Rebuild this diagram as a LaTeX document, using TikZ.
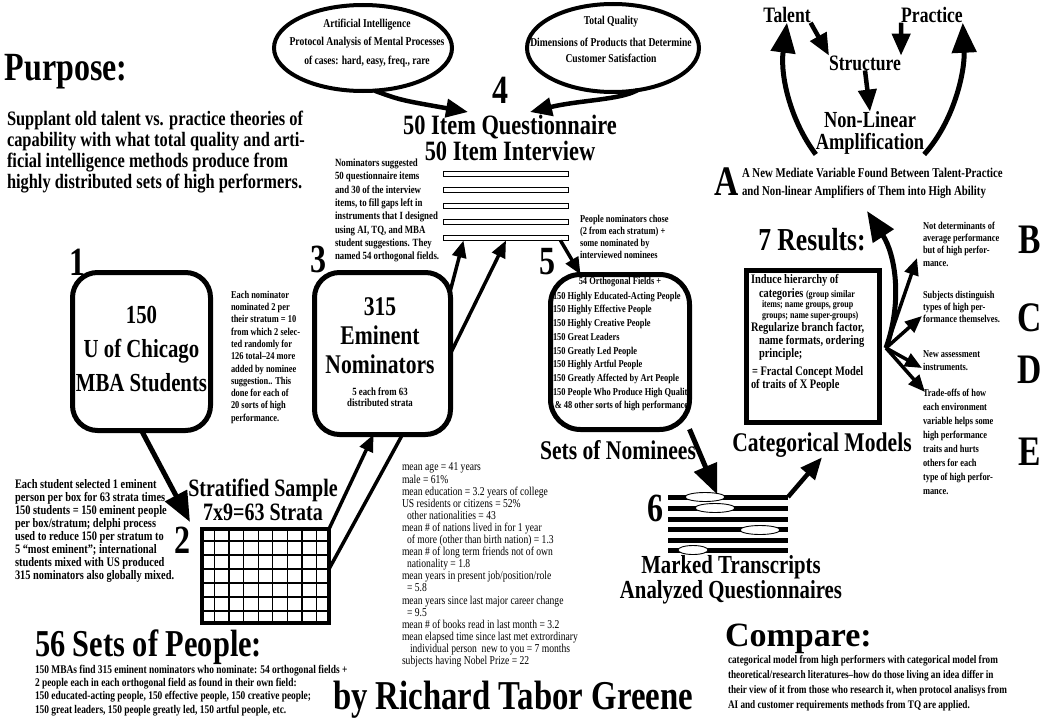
\documentclass[tikz,border=0pt]{standalone}
\usepackage{fontspec}
\setmainfont[FakeStretch=0.8]{Liberation Serif}
\newfontfamily\wideserif{Liberation Serif}
\usetikzlibrary{arrows.meta,shapes.geometric,calc}
\newcommand\fz[2]{\fontsize{#1}{#2}\selectfont\bfseries}
\newcommand\frg[2]{\fontsize{#1}{#2}\selectfont\mdseries}
\newcommand\fw[2]{\wideserif\fontsize{#1}{#2}\selectfont\bfseries}
\tikzset{
  every node/.style={inner sep=0pt, outer sep=0pt},
  fat/.style={line width=4.5pt, -{Triangle[length=22pt,width=18pt]}},
  hugearrow/.style={line width=5pt, -{Triangle[length=30pt,width=24pt]}},
  slim/.style={line width=3.5pt, -{Triangle[length=17pt,width=14pt]}},
  rbox/.style={draw, line width=5pt, rounded corners=25pt},
  oval/.style={ellipse, draw, line width=4pt},
  qbar/.style={draw, line width=1.8pt, fill=white, minimum width=125pt, minimum height=5pt},
  tbar/.style={fill=black, minimum width=120pt, minimum height=5pt},
  mk/.style={ellipse, draw, line width=0.9pt, fill=white, minimum height=9pt},
  num/.style={font=\fz{40}{40}},
  note/.style={align=left, anchor=north west},
  rl/.style={anchor=west, font=\fz{13}{13}},
  rs/.style={anchor=west, font=\fz{10}{10}},
}
\begin{document}
\begin{tikzpicture}[x=1pt,y=-1pt]
\useasboundingbox[fill=white] (0,0) rectangle (1052,720);

% ---------- Purpose
\node[anchor=base west, font=\fz{40}{40}] (purpose) at (5,80) {Purpose:};
\node[note, font=\fz{20.5}{21}] (purptxt) at (7,111) {Supplant old talent vs. practice theories of\\capability with what total quality and arti-\\ficial intelligence methods produce from\\highly distributed sets of high performers.};

% ---------- top ellipses
\node[oval, minimum width=178pt, minimum height=86pt] (ai) at (363,48) {};
\node[align=center, font=\fz{12}{18.5}] (aitxt) at (367,43) {Artificial Intelligence\\Protocol Analysis of Mental Processes\\of cases: hard, easy, freq., rare};
\node[oval, minimum width=172pt, minimum height=88pt] (tq) at (613,48) {};
\node[align=center, font=\fz{12}{15.5}] (tqtxt) at (611,39) {Total Quality\\[7pt]Dimensions of Products that Determine\\Customer Satisfaction};

\node[num] (four) at (500,90) {4};
\node[anchor=base, font=\fz{28}{28}] (quest) at (510,134) {50 Item Questionnaire};
\node[anchor=base, font=\fz{28}{28}] (interv) at (510,160) {50 Item Interview};
\coordinate (aitip) at (468,112);
\coordinate (tqtip) at (530,112);
\draw[fat] (ai.285) .. controls (400,100) .. (aitip);
\draw[fat] (tq.300) .. controls (620,100) and (580,100) .. (tqtip);

% ---------- questionnaire bars
\foreach \i/\y in {1/174,2/190,3/206,4/222,5/238} \node[qbar] (q\i) at (506,\y) {};

\node[note, font=\fz{11}{13.3}] (nomnote) at (335,159) {Nominators suggested\\50 questionnaire items\\and 30 of the interview\\items, to fill gaps left in\\instruments that I designed\\using AI, TQ, and MBA\\student suggestions. They\\named 54 orthogonal fields.};

% ---------- box 1
\node[num] (n1) at (77,262) {1};
\node[rbox, minimum width=138pt, minimum height=158pt] (b1) at (141.5,351.5) {};
\node[align=center, font=\fz{26}{34}] (b1txt) at (141.5,349) {150\\U of Chicago\\MBA Students};

\node[note, font=\fz{10.5}{12.3}] (perno) at (231,291) {Each nominator\\nominated 2 per\\their stratum = 10\\from which 2 selec-\\ted randomly for\\126 total--24 more\\added by nominee\\suggestion.. This\\done for each of\\20 sorts of high\\performance.};

% ---------- box 3
\node[num] (n3) at (318,259) {3};
\node[rbox, minimum width=136pt, minimum height=162pt] (b3) at (382.5,353.5) {};
\node[align=center, font=\fz{27}{29}] (b3txt) at (380,336) {315\\Eminent\\Nominators};
\node[align=center, font=\fz{11}{11.5}] (b3sub) at (380,397) {5 each from 63\\distributed strata};
\draw[slim] (b3.43) -- ($(q5.south west)!0.16!(q5.south east)$);
\draw[slim] (b3.east) -- (q5.south);

% ---------- box 5
\node[num] (n5) at (547,262) {5};
\node[note, font=\fz{10.5}{12}] (pnote) at (580,215) {People nominators chose\\(2 from each stratum) +\\some nominated by\\interviewed nominees};
\node[rbox, rounded corners=30pt, minimum width=139pt, minimum height=155pt] (b5) at (620,352) {};
\node[font=\fz{10.5}{13.7}] (b5head) at (620,282) {54 Orthogonal Fields +};
\node[note, font=\fz{10.5}{13.7}] (b5list) at (553,292) {150 Highly Educated-Acting People\\150 Highly Effective People\\150 Highly Creative People\\150 Great Leaders\\150 Greatly Led People\\150 Highly Artful People\\150 Greatly Affected by Art People\\150 People Who Produce High Quality\\\,\& 48 other sorts of high performance};
\draw[slim] ($(q5.south east)+(-8,0)$) -- (b5.117);
\node[font=\fz{27}{27}] (setsnom) at (618,450) {Sets of Nominees};

% ---------- transcripts
\foreach \i/\y in {1/497,2/508,3/519,4/529,5/540,6/550} \node[tbar] (t\i) at (728,\y) {};
\node[mk, minimum width=40pt] (m1) at (705,497) {};
\node[mk, minimum width=40pt] (m2) at (715,508) {};
\node[mk, minimum width=40pt] (m3) at (760,530) {};
\node[mk, minimum width=30pt] (m4) at (693,550) {};
\draw[hugearrow] (b5.-48) -- ($(t1.north west)!0.41!(t1.north east)$);
\node[num] (n6) at (655,508) {6};
\node[align=center, font=\fz{26}{25}] (marked) at (731,580) {Marked Transcripts\\Analyzed Questionnaires};

% ---------- results
\node[font=\fz{32}{32}] (res) at (812,240) {7 Results:};
\node[draw, line width=5pt, minimum width=133pt, minimum height=152pt] (rbx) at (813,346.5) {};
\node[rl] (r1) at (751,280) {Induce hierarchy of};
\node[rl] (r2) at (759,294) {categories {\fz{10}{10}(group similar}};
\node[rs] (r3) at (762,305) {items; name groups, group};
\node[rs] (r4) at (762,316) {groups; name super-groups)};
\node[rl] (r5) at (751,328) {Regularize branch factor,};
\node[rl] (r6) at (759,341) {name formats, ordering};
\node[rl] (r7) at (759,354) {principle;};
\node[rl] (r8) at (752,372) {= Fractal Concept Model};
\node[rl] (r9) at (751,385) {of traits of X People};
\node[font=\fz{27}{27}] (catm) at (822,445) {Categorical Models};
\draw[fat] (t1.east) -- (catm.south);

% ---------- B C D E
\node[font=\fz{42}{42}] (LB) at (1030,240) {B};
\node[font=\fz{42}{42}] (LC) at (1030,318) {C};
\node[font=\fz{42}{42}] (LD) at (1030,370) {D};
\node[font=\fz{42}{42}] (LE) at (1030,452) {E};
\node[note, font=\fz{10.5}{12.3}] (btxt) at (923,222) {Not determinants of\\average performance\\but of high perfor-\\mance.};
\node[note, font=\fz{10.5}{12.3}] (ctxt) at (923,291) {Subjects distinguish\\types of high per-\\formance themselves.};
\node[note, font=\fz{10.5}{12.3}] (dtxt) at (923,351) {New assessment\\instruments.};
\node[note, font=\fz{10.5}{14}] (etxt) at (923,389) {Trade-offs of how\\each environment\\variable helps some\\high performance\\traits and hurts\\others for each\\type of high perfor-\\mance.};

\coordinate (hub) at (886,348);
\coordinate (atip) at (867,211);
\coordinate (btip) at (917,258);
\coordinate (ctip) at (922,316);
\coordinate (dtip) at (922,368);
\coordinate (etip) at (925,392);
\draw[hugearrow] (hub) .. controls (903,300) and (895,254) .. (atip);
\draw[slim] (hub) -- (btip);
\draw[slim] (hub) -- (ctip);
\draw[slim] (hub) -- (dtip);
\draw[slim] (hub) -- (etip);

% ---------- top right
\node[font=\fz{22}{22}] (talent) at (787,15) {Talent};
\node[font=\fz{22}{22}] (practice) at (932,15) {Practice};
\node[font=\fz{22}{22}] (structure) at (865,63) {Structure};
\node[font=\fz{23}{22}, align=center] (nonlin) at (870,133) {Non-Linear\\Amplification};
\draw[fat] (talent.south east) -- (structure.north west);
\draw[fat] (practice.south west) -- (structure.north east);
\draw[fat] (structure.south) -- (nonlin.north);
\draw[hugearrow] (nonlin.south west) .. controls (790,120) and (780,75) .. (talent.south);
\draw[hugearrow] (nonlin.south east) .. controls (955,120) and (965,70) .. (practice.south east);
\node[font=\fz{42}{42}] (LA) at (727,182) {A};
\node[anchor=base west, font=\fz{13.5}{17}] (atxt1) at (742,177) {A New Mediate Variable Found Between Talent-Practice};
\node[anchor=base west, font=\fz{13.5}{17}] (atxt2) at (742,195) {and Non-linear Amplifiers of Them into High Ability};

% ---------- stratified sample
\node[note, font=\fz{13}{13}] (stnote) at (15,479) {Each student selected 1 eminent\\person per box for 63 strata times\\150 students = 150 eminent people\\per box/stratum; delphi process\\used to reduce 150 per stratum to\\5 “most eminent”; international\\students mixed with US produced\\315 nominators also globally mixed.};
\node[font=\fz{25}{24}, align=center] (strat) at (263,500) {Stratified Sample\\7x9=63 Strata};
\node[num] (n2) at (182,540) {2};
\node[draw, line width=4pt, minimum width=127pt, minimum height=94pt] (grid) at (265.5,576) {};
\draw[line width=1.3pt] \foreach \k in {1,...,8} {({200+\k*14.56},527) -- ({200+\k*14.56},625)};
\draw[line width=1.3pt] \foreach \k in {1,...,6} {(200,{527+\k*14}) -- (331,{527+\k*14})};
\coordinate (gtip) at (190,522);
\draw[hugearrow] (b1.south) -- (gtip);
\draw[slim] (grid.north east) -- ($(b3.south)+(-9,0)$);
\draw[line width=3.5pt] ($(grid.north east)+(0,40)$) -- ($(b3.south)+(20,0)$);

% ---------- stats
\node[note, font=\frg{12}{12.1}] (stats) at (402,463) {mean age = 41 years\\male = 61\%\\mean education = 3.2 years of college\\US residents or citizens = 52\%\\\hspace*{5pt}other nationalities = 43\\mean \# of nations lived in for 1 year\\\hspace*{5pt}of more (other than birth nation) = 1.3\\mean \# of long term friends not of own\\\hspace*{5pt}nationality = 1.8\\mean years in present job/position/role\\\hspace*{5pt}= 5.8\\mean years since last major career change\\\hspace*{5pt}= 9.5\\mean \# of books read in last month = 3.2\\mean elapsed time since last met extrordinary\\\hspace*{8pt}individual person\ \ new to you = 7 months\\subjects having Nobel Prize = 22};

% ---------- bottom
\node[anchor=base west, font=\fz{38}{38}] (sets56) at (35,656) {56 Sets of People:};
\node[note, font=\fz{11.75}{13.3}] (setstxt) at (35,665) {150 MBAs find 315 eminent nominators who nominate: 54 orthogonal fields +\\2 people each in each orthogonal field as found in their own field:\\150 educated-acting people, 150 effective people, 150 creative people;\\150 great leaders, 150 people greatly led, 150 artful people, etc.};
\node[anchor=base west, font=\fz{41}{41}] (author) at (333,709) {by Richard Tabor Greene};
\node[anchor=base west, font=\fw{34}{34}] (compare) at (725,646) {Compare:};
\node[note, font=\fz{11.5}{15}] (comptxt) at (728,655) {categorical model from high performers with categorical model from\\theoretical/research literatures--how do those living an idea differ in\\their view of it from those who research it, when protocol analisys from\\AI and customer requirements methods from TQ are applied.};

\end{tikzpicture}
\end{document}
